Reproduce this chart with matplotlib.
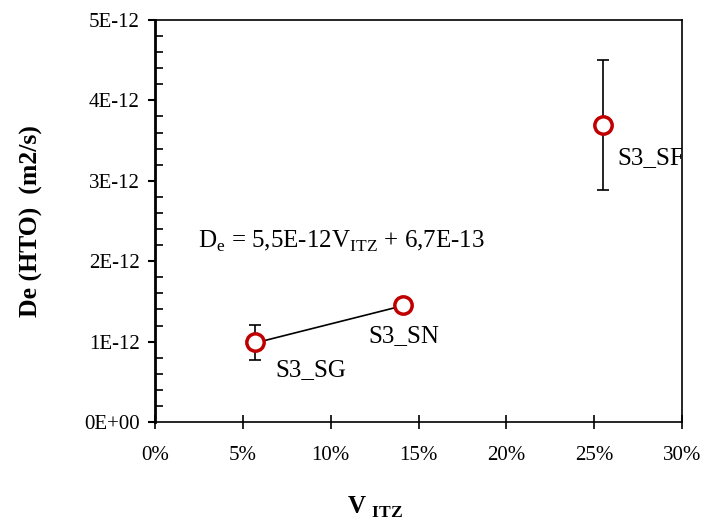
import numpy as np
import matplotlib
matplotlib.use("Agg")
import matplotlib.pyplot as plt
from matplotlib.ticker import PercentFormatter, MultipleLocator, FuncFormatter

plt.rcParams['font.family'] = ['Liberation Serif', 'DejaVu Serif']
plt.rcParams['mathtext.fontset'] = 'custom'
plt.rcParams['mathtext.rm'] = 'Liberation Serif'
plt.rcParams['mathtext.bf'] = 'Liberation Serif:bold'

# datos
muestras = ['S3_SG', 'S3_SN', 'S3_SF']
v_itz = [0.057, 0.141, 0.255]
de_hto = [1.0e-12, 1.455e-12, 3.69e-12]
err_inf = [0.23e-12, 0.0, 0.80e-12]
err_sup = [0.21e-12, 0.0, 0.81e-12]

# ajuste lineal (solo SG y SN)
pendiente = 5.5e-12
ordenada = 6.7e-13

fig = plt.figure(figsize=(7.04, 5.23), dpi=100)
ax = fig.add_axes([155/704, 1 - 422/523, 527/704, 402/523])

xx = np.array([v_itz[0], v_itz[1]])
ax.plot(xx, pendiente * xx + ordenada, '-', color='black', lw=1.2, zorder=2)

ax.errorbar(v_itz, de_hto, yerr=[err_inf, err_sup], fmt='none', ecolor='black',
            elinewidth=1.2, capsize=4, capthick=1.2, zorder=1)
ax.plot(v_itz, de_hto, 'o', ms=12.5, mfc='white', mec='#C00000', mew=2.5, zorder=3)

# etiquetas de cada punto
ax.text(0.0683, 0.647e-12, muestras[0], fontsize=18, va='center', ha='left')
ax.text(0.1213, 1.07e-12, muestras[1], fontsize=18, va='center', ha='left')
ax.text(0.263, 3.28e-12, muestras[2], fontsize=18, va='center', ha='left', clip_on=True)

ax.text(0.0245, 2.25e-12, r'D$_\mathregular{e}$ = 5,5E-12V$_\mathregular{ITZ}$ + 6,7E-13',
        fontsize=18, va='center', ha='left')

ax.set_xlim(0, 0.30)
ax.set_ylim(0, 5e-12)
ax.xaxis.set_major_locator(MultipleLocator(0.05))
ax.xaxis.set_major_formatter(PercentFormatter(1.0, decimals=0))
ax.yaxis.set_major_locator(MultipleLocator(1e-12))
ax.yaxis.set_minor_locator(MultipleLocator(0.2e-12))
ax.yaxis.set_major_formatter(FuncFormatter(lambda v, p: f'{v:.0E}'))
ax.yaxis.get_offset_text().set_visible(False)

ax.tick_params(axis='x', direction='inout', length=10, width=1.2, labelsize=15, pad=12)
ax.tick_params(axis='y', which='major', direction='out', length=5, width=1.5, labelsize=15, pad=6)
ax.tick_params(axis='y', which='minor', direction='in', length=6, width=1.2)
for s in ['top', 'right', 'bottom']:
    ax.spines[s].set_linewidth(1.2)
ax.spines['left'].set_linewidth(2)

ax.set_ylabel('De (HTO)  (m2/s)', fontsize=18.5, fontweight='bold')
ax.yaxis.set_label_coords(-0.212, 0.5)
ax.set_xlabel(r'V $_\mathregular{\mathbf{ITZ}}$', fontsize=18, fontweight='bold')
ax.xaxis.set_label_coords(0.418, -0.182)

fig.savefig('out.png', dpi=100)
